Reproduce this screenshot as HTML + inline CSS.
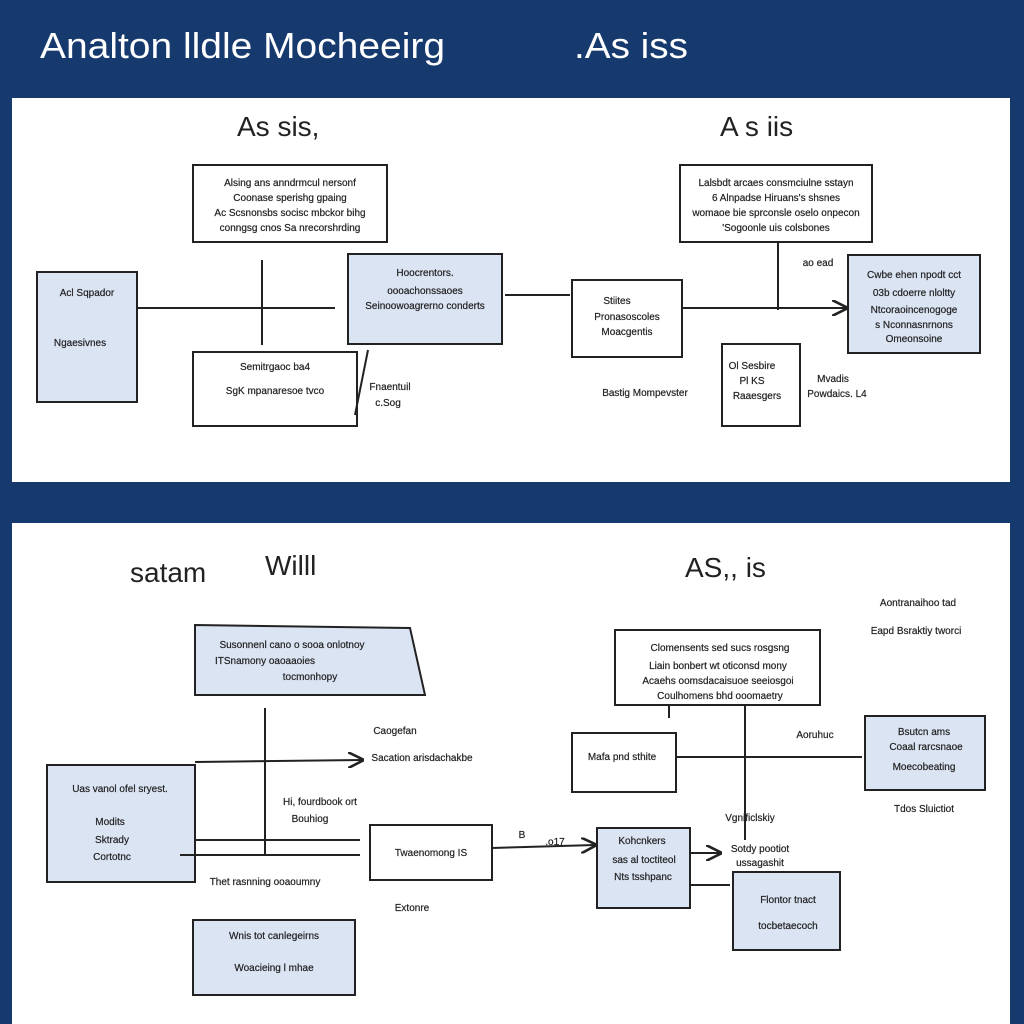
<!DOCTYPE html>
<html><head><meta charset="utf-8"><style>
html,body{margin:0;padding:0;background:#173a6e;}
svg{display:block}
text{font-family:"Liberation Sans",sans-serif;}
.s{font-size:10px;fill:#222;stroke:#222;stroke-width:0.2;}
.h{font-size:28px;fill:#222;}
</style></head><body>
<svg width="1024" height="1024" viewBox="0 0 1024 1024" xmlns="http://www.w3.org/2000/svg">
<defs><marker id="a" markerWidth="8" markerHeight="8" refX="7" refY="4" orient="auto"><path d="M0,0 L8,4 L0,8" fill="none" stroke="#222" stroke-width="1.3"/></marker></defs>
<rect width="1024" height="1024" fill="#173a6e"/>
<text x="40" y="58" font-size="36" fill="#fff" textLength="405" lengthAdjust="spacingAndGlyphs">Analton lldle Mocheeirg</text>
<text x="574" y="58" font-size="36" fill="#fff" textLength="114" lengthAdjust="spacingAndGlyphs">.As  iss</text>
<rect x="12" y="98" width="998" height="384" fill="#fff"/>
<rect x="12" y="523" width="998" height="501" fill="#fff"/>
<g stroke="#222" stroke-width="2" fill="none">
<rect x="193" y="165" width="194" height="77"/>
<rect x="37" y="272" width="100" height="130" fill="#dbe4f3"/>
<line x1="137" y1="308" x2="335" y2="308"/>
<line x1="262" y1="260" x2="262" y2="345"/>
<rect x="348" y="254" width="154" height="90" fill="#dbe4f3"/>
<rect x="193" y="352" width="164" height="74"/>
<line x1="368" y1="350" x2="355" y2="415"/>
<line x1="505" y1="295" x2="570" y2="295"/>
<rect x="572" y="280" width="110" height="77"/>
<rect x="680" y="165" width="192" height="77"/>
<line x1="778" y1="242" x2="778" y2="310"/>
<line x1="682" y1="308" x2="846" y2="308" marker-end="url(#a)"/>
<rect x="848" y="255" width="132" height="98" fill="#dbe4f3"/>
<rect x="722" y="344" width="78" height="82"/>
<path d="M195,625 L410,628 L425,695 L195,695 Z" fill="#dbe4f3"/>
<line x1="265" y1="708" x2="265" y2="855"/>
<path d="M47,765 L195,765 L195,882 L47,882 Z" fill="#dbe4f3"/>
<line x1="195" y1="762" x2="362" y2="760" marker-end="url(#a)"/>
<line x1="180" y1="855" x2="360" y2="855"/>
<line x1="195" y1="840" x2="360" y2="840"/>
<rect x="370" y="825" width="122" height="55"/>
<rect x="193" y="920" width="162" height="75" fill="#dbe4f3"/>
<rect x="615" y="630" width="205" height="75"/>
<rect x="572" y="733" width="104" height="59"/>
<line x1="676" y1="757" x2="862" y2="757"/>
<line x1="745" y1="705" x2="745" y2="840"/>
<line x1="669" y1="705" x2="669" y2="718"/>
<rect x="865" y="716" width="120" height="74" fill="#dbe4f3"/>
<line x1="492" y1="848" x2="595" y2="845" marker-end="url(#a)"/>
<rect x="597" y="828" width="93" height="80" fill="#dbe4f3"/>
<line x1="690" y1="853" x2="720" y2="853" marker-end="url(#a)"/>
<line x1="690" y1="885" x2="730" y2="885"/>
<rect x="733" y="872" width="107" height="78" fill="#dbe4f3"/>
</g>
<text x="237" y="136" class="h">As sis,</text>
<text x="720" y="136" class="h">A s iis</text>
<g class="s" text-anchor="middle">
<text x="290" y="186">Alsing ans anndrmcul nersonf</text>
<text x="290" y="201">Coonase sperishg gpaing</text>
<text x="290" y="216">Ac Scsnonsbs socisc mbckor bihg</text>
<text x="290" y="231">conngsg cnos Sa nrecorshrding</text>
<text x="87" y="296">Acl Sqpador</text>
<text x="80" y="346">Ngaesivnes</text>
<text x="425" y="276">Hoocrentors.</text>
<text x="425" y="294">oooachonssaoes</text>
<text x="425" y="309">Seinoowoagrerno conderts</text>
<text x="275" y="370">Semitrgaoc ba4</text>
<text x="275" y="394">SgK mpanaresoe tvco</text>
<text x="390" y="390">Fnaentuil</text>
<text x="388" y="406">c.Sog</text>
<text x="617" y="304">Stiites</text>
<text x="627" y="320">Pronasoscoles</text>
<text x="627" y="335">Moacgentis</text>
<text x="776" y="186">Lalsbdt arcaes consmciulne sstayn</text>
<text x="776" y="201">6 Alnpadse Hiruans's shsnes</text>
<text x="776" y="216">womaoe bie sprconsle oselo onpecon</text>
<text x="776" y="231">'Sogoonle uis colsbones</text>
<text x="914" y="278">Cwbe ehen npodt cct</text>
<text x="914" y="296">03b cdoerre nloltty</text>
<text x="914" y="313">Ntcoraoincenogoge</text>
<text x="914" y="328">s Nconnasnrnons</text>
<text x="914" y="342">Omeonsoine</text>
<text x="818" y="266">ao  ead</text>
<text x="645" y="396">Bastig Mompevster</text>
<text x="752" y="369">Ol Sesbire</text>
<text x="752" y="384">Pl KS</text>
<text x="757" y="399">Raaesgers</text>
<text x="833" y="382">Mvadis</text>
<text x="837" y="397">Powdaics. L4</text>
<text x="292" y="648">Susonnenl cano o sooa onlotnoy</text>
<text x="265" y="664">ITSnamony oaoaaoies</text>
<text x="310" y="680">tocmonhopy</text>
<text x="120" y="792">Uas vanol ofel sryest.</text>
<text x="110" y="825">Modits</text>
<text x="112" y="843">Sktrady</text>
<text x="112" y="860">Cortotnc</text>
<text x="395" y="734">Caogefan</text>
<text x="422" y="761">Sacation arisdachakbe</text>
<text x="320" y="805">Hi, fourdbook ort</text>
<text x="310" y="822">Bouhiog</text>
<text x="265" y="885">Thet rasnning ooaoumny</text>
<text x="412" y="911">Extonre</text>
<text x="431" y="856">Twaenomong IS</text>
<text x="274" y="939">Wnis tot canlegeirns</text>
<text x="274" y="971">Woacieing l mhae</text>
<text x="720" y="651">Clomensents sed sucs rosgsng</text>
<text x="718" y="669">Liain bonbert wt oticonsd mony</text>
<text x="718" y="684">Acaehs oomsdacaisuoe seeiosgoi</text>
<text x="720" y="699">Coulhomens bhd ooomaetry</text>
<text x="622" y="760">Mafa pnd sthite</text>
<text x="815" y="738">Aoruhuc</text>
<text x="750" y="821">Vgnificlskiy</text>
<text x="924" y="735">Bsutcn ams</text>
<text x="926" y="750">Coaal rarcsnaoe</text>
<text x="924" y="770">Moecobeating</text>
<text x="924" y="812">Tdos Sluictiot</text>
<text x="918" y="606">Aontranaihoo tad</text>
<text x="916" y="634">Eapd Bsraktiy tworci</text>
<text x="642" y="844">Kohcnkers</text>
<text x="644" y="863">sas al toctiteol</text>
<text x="643" y="880">Nts tsshpanc</text>
<text x="760" y="852">Sotdy pootiot</text>
<text x="760" y="866">ussagashit</text>
<text x="788" y="903">Flontor tnact</text>
<text x="788" y="929">tocbetaecoch</text>
<text x="522" y="838">B</text>
<text x="555" y="845">.o17</text>
</g>
<text x="130" y="582" class="h">satam</text>
<text x="265" y="575" class="h">Willl</text>
<text x="685" y="577" class="h">AS,, is</text>
</svg>
</body></html>
